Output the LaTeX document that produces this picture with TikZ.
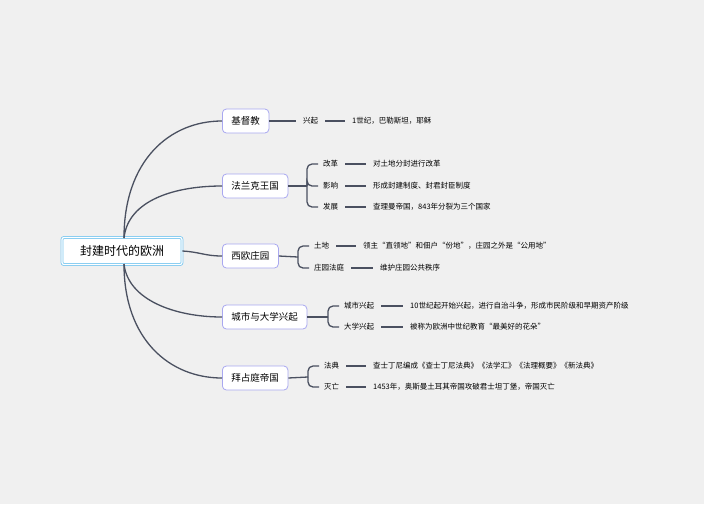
\documentclass[tikz,border=0pt]{standalone}
\usepackage{fontspec}
\setmainfont{Noto Sans CJK SC}
\usetikzlibrary{positioning}
\definecolor{bg}{HTML}{F0F0F0}
\definecolor{linec}{HTML}{4A5060}
\definecolor{boxc}{HTML}{A9A8F0}
\definecolor{rootc}{HTML}{7CC8F0}
\begin{document}
\begin{tikzpicture}[x=1pt,y=-1pt,
    root/.style={rectangle, rounded corners=2pt, draw=rootc, double=white, double distance=1.2pt, line width=0.8pt,
                 fill=white, minimum width=120pt, minimum height=27pt, font=\fontsize{12}{14}\selectfont},
    branch/.style={rectangle, rounded corners=4pt, draw=boxc, line width=0.8pt, fill=white,
                   minimum height=24pt, inner xsep=9pt, font=\fontsize{9.5}{11}\selectfont},
    leaf/.style={anchor=west, inner sep=1pt, font=\fontsize{7.5}{9}\selectfont},
    link/.style={draw=linec, line width=1.3pt},
    fork/.style={draw=linec, line width=1.3pt, rounded corners=5pt, shorten >=4pt},
    leafline/.style={draw=linec, line width=1.3pt, shorten <=6pt, shorten >=6pt}
  ]
  \fill[bg] (0,0) rectangle (704,504);
  \useasboundingbox (0,0) rectangle (704,504);

  % main topic and branches
  \node[root] (feud) at (122,251) {封建时代的欧洲};
  \node[branch, anchor=west] (jdj) at (222,121) {基督教};
  \node[branch, anchor=west] (flk) at (222,186) {法兰克王国};
  \node[branch, anchor=west] (zy) at (222,256) {西欧庄园};
  \node[branch, anchor=west] (cs) at (222,317) {城市与大学兴起};
  \node[branch, anchor=west] (bzt) at (222,378) {拜占庭帝国};

  \coordinate (up) at (124,238);
  \coordinate (dn) at (124,264);
  \draw[link] (up) .. controls (124,160) and (170,121) .. (jdj.west);
  \draw[link] (up) .. controls (128,200) and (175,186) .. (flk.west);
  \draw[link] (feud.east) .. controls (200,252) and (205,256) .. (zy.west);
  \draw[link] (dn) .. controls (128,300) and (175,317) .. (cs.west);
  \draw[link] (dn) .. controls (124,340) and (170,378) .. (bzt.west);

  % 基督教
  \node[leaf] (jdj1) at (302,121) {兴起};
  \node[leaf] (jdj1d) at (351,121) {1世纪，巴勒斯坦，耶稣};
  \draw[link] (jdj.east) -- (296,121);
  \draw[leafline] (jdj1) -- (jdj1d);

  % 法兰克王国
  \node[leaf] (flk1) at (322,164) {改革};
  \node[leaf] (flk2) at (322,186) {影响};
  \node[leaf] (flk3) at (322,207) {发展};
  \node[leaf] (flk1d) at (372,164) {对土地分封进行改革};
  \node[leaf] (flk2d) at (372,186) {形成封建制度、封君封臣制度};
  \node[leaf] (flk3d) at (372,207) {查理曼帝国，843年分裂为三个国家};
  \draw[link] (flk.east) -- (307,186) coordinate (flkf);
  \foreach \n in {flk1,flk2,flk3} {
    \draw[fork] (flkf) |- (\n.west);
    \draw[leafline] (\n) -- (\n d);
  }

  % 西欧庄园
  \node[leaf] (zy1) at (313,246) {土地};
  \node[leaf] (zy2) at (313,268) {庄园法庭};
  \node[leaf] (zy1d) at (362,246) {领主“直领地”和佃户“份地”，庄园之外是“公用地”};
  \node[leaf] (zy2d) at (379,268) {维护庄园公共秩序};
  \draw[link] (zy.east) -- (298,257) coordinate (zyf);
  \foreach \n in {zy1,zy2} {
    \draw[fork] (zyf) |- (\n.west);
    \draw[leafline] (\n) -- (\n d);
  }

  % 城市与大学兴起
  \node[leaf] (cs1) at (343,306) {城市兴起};
  \node[leaf] (cs2) at (343,327) {大学兴起};
  \node[leaf] (cs1d) at (409,306) {10世纪起开始兴起，进行自治斗争，形成市民阶级和早期资产阶级};
  \node[leaf] (cs2d) at (409,327) {被称为欧洲中世纪教育“最美好的花朵”};
  \draw[link] (cs.east) -- (328,317) coordinate (csf);
  \foreach \n in {cs1,cs2} {
    \draw[fork] (csf) |- (\n.west);
    \draw[leafline] (\n) -- (\n d);
  }

  % 拜占庭帝国
  \node[leaf] (bzt1) at (323,366) {法典};
  \node[leaf] (bzt2) at (323,387) {灭亡};
  \node[leaf] (bzt1d) at (372,366) {查士丁尼编成《查士丁尼法典》《法学汇》《法理概要》《新法典》};
  \node[leaf] (bzt2d) at (372,387) {1453年，奥斯曼土耳其帝国攻破君士坦丁堡，帝国灭亡};
  \draw[link] (bzt.east) -- (308,377) coordinate (bztf);
  \foreach \n in {bzt1,bzt2} {
    \draw[fork] (bztf) |- (\n.west);
    \draw[leafline] (\n) -- (\n d);
  }
\end{tikzpicture}
\end{document}
